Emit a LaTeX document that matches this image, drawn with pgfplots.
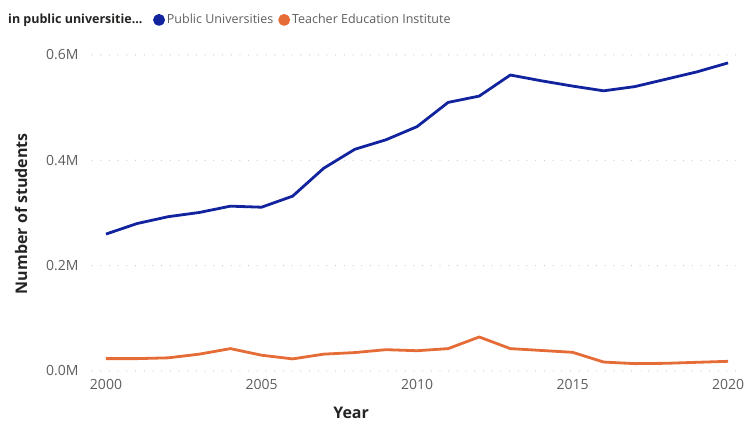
\documentclass[border=0pt]{standalone}
\usepackage{fontspec}
\setmainfont{Open Sans}
\usepackage{pgfplots}
\pgfplotsset{compat=1.18}
\definecolor{pbblue}{HTML}{12239E}
\definecolor{pborange}{HTML}{E66C37}
\definecolor{pbgray}{HTML}{605E5C}
\definecolor{pbdark}{HTML}{252423}
\definecolor{gridc}{HTML}{C8C6C4}
\begin{document}
\begin{tikzpicture}
\path[use as bounding box] (0pt,0pt) rectangle (748pt,424pt);
\node[anchor=west,text=pbdark,font=\fontsize{12.5}{14}\selectfont\bfseries,inner sep=0] at (8pt,404pt) {in public universitie...};
\begin{axis}[
  at={(92pt,53pt)}, anchor=south west,
  scale only axis, width=651pt, height=316pt,
  xmin=1999.55, xmax=2020.48, ymin=0, ymax=0.6,
  clip=false,
  axis line style={draw=none},
  tick style={draw=none},
  xtick={2000,2005,2010,2015,2020},
  ytick={0,0.2,0.4,0.6},
  /pgf/number format/assume math mode=true,
  xticklabel={\pgfmathprintnumber[1000 sep={}]{\tick}},
  yticklabel={\pgfmathprintnumber[fixed,fixed zerofill,precision=1]{\tick}M},
  ticklabel style={text=pbgray,font=\fontsize{14}{16}\selectfont},
  xticklabel style={yshift=-5pt},
  yticklabel style={xshift=-10pt},
  ymajorgrids,
  grid style={gridc,line width=1.2pt,line cap=round,dash pattern=on 0pt off 8.7pt},
  xlabel={Year},
  ylabel={Number of students},
  label style={text=pbdark,font=\fontsize{16}{18}\selectfont\bfseries},
  x label style={at={(axis description cs:0.398,-0.133)},anchor=center},
  y label style={at={(axis description cs:-0.109,0.498)},anchor=center},
  legend style={at={(axis description cs:0.089,1.111)},anchor=west,draw=none,fill=none,
    font=\fontsize{12.5}{14}\selectfont,text=pbgray,
    /tikz/every even column/.append style={column sep=3pt}},
  legend columns=2,
  legend cell align=left,
  legend image code/.code={\fill[#1] (0.12cm,0) circle (4.5pt);},
]
\addplot[pbblue,line width=2.8pt,line join=round] coordinates {
(2000,0.260) (2001,0.280) (2002,0.293) (2003,0.301) (2004,0.313) (2005,0.311)
(2006,0.332) (2007,0.385) (2008,0.421) (2009,0.439) (2010,0.464) (2011,0.510)
(2012,0.522) (2013,0.562) (2014,0.551) (2015,0.541) (2016,0.532) (2017,0.540)
(2018,0.554) (2019,0.568) (2020,0.585)};
\addlegendentry{Public Universities}
\addplot[pborange,line width=2.8pt,line join=round] coordinates {
(2000,0.0235) (2001,0.0235) (2002,0.025) (2003,0.032) (2004,0.0425) (2005,0.030)
(2006,0.023) (2007,0.032) (2008,0.035) (2009,0.0405) (2010,0.0385) (2011,0.0425)
(2012,0.0646) (2013,0.0425) (2014,0.039) (2015,0.0355) (2016,0.017) (2017,0.014)
(2018,0.0146) (2019,0.0165) (2020,0.0184)};
\addlegendentry{Teacher Education Institute}
\end{axis}
\end{tikzpicture}
\end{document}
